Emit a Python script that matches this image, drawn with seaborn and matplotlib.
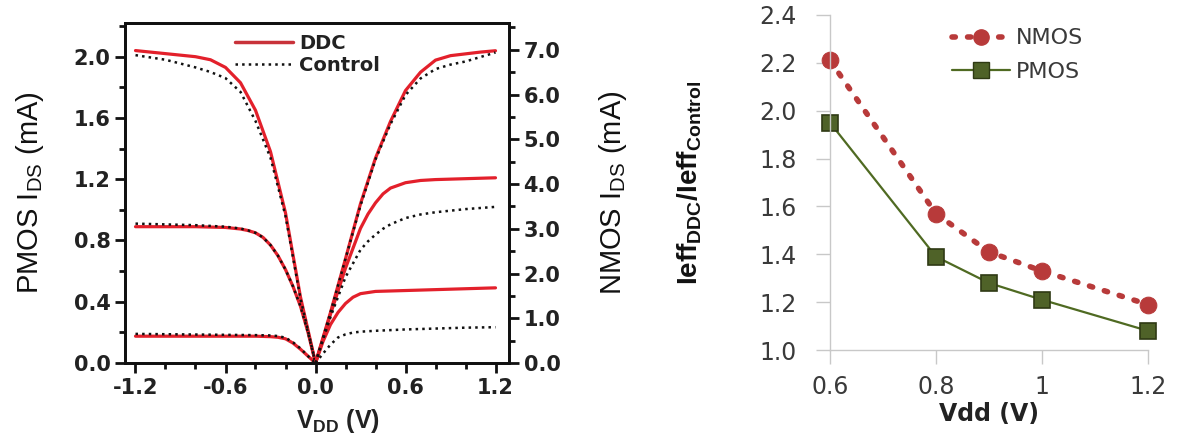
import matplotlib
matplotlib.use("Agg")
import matplotlib.pyplot as plt
import seaborn as sns
import numpy as np
import pandas as pd
from matplotlib.ticker import MultipleLocator, FormatStrFormatter
from matplotlib.lines import Line2D

sns.set_style("ticks")
plt.rcParams['font.family'] = ['DejaVu Sans']
plt.rcParams['mathtext.fontset'] = 'custom'
plt.rcParams['mathtext.rm'] = 'Liberation Sans'
plt.rcParams['mathtext.bf'] = 'Liberation Sans:bold'

# ---------------- Left panel data ----------------
# PMOS (negative V_DD), PMOS I_DS in mA (left axis)
pmos_v = [-1.2, -1.0, -0.8, -0.7, -0.6, -0.5, -0.4, -0.3, -0.2, -0.1, 0.0]
pmos_ddc_hi = [2.04, 2.02, 2.00, 1.98, 1.93, 1.83, 1.65, 1.38, 0.98, 0.43, 0.0]
pmos_ctl_hi = [2.01, 1.98, 1.93, 1.90, 1.86, 1.77, 1.58, 1.34, 0.96, 0.42, 0.0]
pmos_v_mid = [-1.2, -1.0, -0.8, -0.6, -0.5, -0.45, -0.4, -0.35, -0.3, -0.25, -0.2, -0.15, -0.1, -0.05, 0.0]
pmos_ddc_mid = [0.89, 0.89, 0.89, 0.885, 0.875, 0.865, 0.85, 0.82, 0.77, 0.70, 0.61, 0.50, 0.37, 0.20, 0.0]
pmos_ctl_mid = [0.91, 0.905, 0.90, 0.89, 0.878, 0.866, 0.85, 0.82, 0.77, 0.70, 0.61, 0.50, 0.37, 0.20, 0.0]
pmos_v_lo = [-1.2, -1.0, -0.8, -0.6, -0.4, -0.3, -0.25, -0.2, -0.15, -0.1, -0.05, 0.0]
pmos_ddc_lo = [0.175, 0.175, 0.175, 0.175, 0.175, 0.172, 0.168, 0.158, 0.13, 0.09, 0.045, 0.0]
pmos_ctl_lo = [0.19, 0.188, 0.186, 0.184, 0.182, 0.18, 0.176, 0.165, 0.135, 0.095, 0.045, 0.0]

# NMOS (positive V_DD), NMOS I_DS in mA (right axis)
nmos_v_hi = [0.0, 0.1, 0.2, 0.3, 0.4, 0.5, 0.6, 0.7, 0.8, 0.9, 1.0, 1.1, 1.2]
nmos_ddc_hi = [0.0, 1.13, 2.33, 3.56, 4.58, 5.40, 6.09, 6.50, 6.77, 6.87, 6.91, 6.95, 6.98]
nmos_ctl_hi = [0.0, 1.13, 2.33, 3.52, 4.55, 5.34, 5.99, 6.36, 6.57, 6.67, 6.74, 6.84, 6.94]
nmos_v_mid = [0.0, 0.1, 0.2, 0.3, 0.35, 0.4, 0.45, 0.5, 0.6, 0.7, 0.8, 1.0, 1.2]
nmos_ddc_mid = [0.0, 1.09, 2.12, 3.01, 3.33, 3.58, 3.78, 3.91, 4.03, 4.08, 4.10, 4.12, 4.14]
nmos_ctl_mid = [0.0, 1.03, 1.92, 2.53, 2.72, 2.87, 3.00, 3.10, 3.24, 3.32, 3.37, 3.44, 3.49]
nmos_v_lo = [0.0, 0.05, 0.1, 0.15, 0.2, 0.25, 0.3, 0.4, 0.6, 0.8, 1.0, 1.2]
nmos_ddc_lo = [0.0, 0.48, 0.86, 1.13, 1.33, 1.47, 1.55, 1.60, 1.62, 1.64, 1.66, 1.68]
nmos_ctl_lo = [0.0, 0.21, 0.41, 0.57, 0.64, 0.68, 0.70, 0.72, 0.75, 0.77, 0.79, 0.80]

left_xticks = [-1.2, -0.6, 0.0, 0.6, 1.2]
legend_left = ["DDC", "Control"]

# ---------------- Right panel data ----------------
vdd = [0.6, 0.8, 0.9, 1.0, 1.2]
nmos_ratio = [2.21, 1.57, 1.41, 1.33, 1.19]
pmos_ratio = [1.95, 1.39, 1.28, 1.21, 1.08]
right_xticks = [0.6, 0.8, 1.0, 1.2]
right_xticklabels = ["0.6", "0.8", "1", "1.2"]

W, H = 1177, 434
fig = plt.figure(figsize=(W / 100, H / 100), dpi=100)

# ---------- Left panel ----------
L, R, T, B = 125, 509, 23, 363
ax1 = fig.add_axes([L / W, (H - B) / H, (R - L) / W, (B - T) / H])
ax1b = ax1.twinx()

red = "#e3202b"
for xs, ys in [(pmos_v, pmos_ddc_hi), (pmos_v_mid, pmos_ddc_mid), (pmos_v_lo, pmos_ddc_lo)]:
    sns.lineplot(x=xs, y=ys, ax=ax1, color=red, lw=2.3, sort=False, estimator=None)
for xs, ys in [(pmos_v, pmos_ctl_hi), (pmos_v_mid, pmos_ctl_mid), (pmos_v_lo, pmos_ctl_lo)]:
    sns.lineplot(x=xs, y=ys, ax=ax1, color="#111111", lw=1.8, linestyle=":", sort=False, estimator=None)
for xs, ys in [(nmos_v_hi, nmos_ddc_hi), (nmos_v_mid, nmos_ddc_mid), (nmos_v_lo, nmos_ddc_lo)]:
    sns.lineplot(x=xs, y=ys, ax=ax1b, color=red, lw=2.3, sort=False, estimator=None)
for xs, ys in [(nmos_v_hi, nmos_ctl_hi), (nmos_v_mid, nmos_ctl_mid), (nmos_v_lo, nmos_ctl_lo)]:
    sns.lineplot(x=xs, y=ys, ax=ax1b, color="#111111", lw=1.8, linestyle=":", sort=False, estimator=None)

ax1.set_xlim(-1.27, 1.29)
ax1.set_ylim(0, 2.22)
ax1b.set_ylim(0, 7.6)
ax1.set_xticks(left_xticks)
ax1.xaxis.set_minor_locator(MultipleLocator(0.2))
ax1.yaxis.set_major_locator(MultipleLocator(0.4))
ax1.yaxis.set_minor_locator(MultipleLocator(0.2))
ax1b.yaxis.set_major_locator(MultipleLocator(1.0))
ax1b.yaxis.set_minor_locator(MultipleLocator(0.5))
ax1.xaxis.set_major_formatter(FormatStrFormatter('%.1f'))
ax1.yaxis.set_major_formatter(FormatStrFormatter('%.1f'))
ax1b.yaxis.set_major_formatter(FormatStrFormatter('%.1f'))
for a in (ax1, ax1b):
    for s in a.spines.values():
        s.set_linewidth(2.0)
        s.set_color("#111111")
        s.set_visible(True)
ax1.tick_params(axis='both', which='major', direction='out', length=7, width=2,
                labelsize=15, color="#111111", labelcolor="#222222")
ax1.tick_params(axis='both', which='minor', direction='out', length=4, width=2, color="#111111")
ax1.tick_params(axis='y', right=False)
ax1b.tick_params(axis='y', which='major', direction='out', length=7, width=2,
                 labelsize=15, color="#111111", labelcolor="#222222")
ax1b.tick_params(axis='y', which='minor', direction='out', length=4, width=2, color="#111111")
for lab in ax1.get_xticklabels() + ax1.get_yticklabels() + ax1b.get_yticklabels():
    lab.set_fontweight('bold')

lab_fam = ['Liberation Sans', 'DejaVu Sans']
ax1.set_ylabel(r"PMOS I$_{\mathregular{DS}}$ (mA)", fontsize=21, family=lab_fam, labelpad=20,
               color="#111111")
ax1b.set_ylabel(r"NMOS I$_{\mathregular{DS}}$ (mA)", fontsize=21, family=lab_fam, labelpad=26,
                color="#111111")
ax1.set_xlabel(r"V$_{\mathbf{DD}}$ (V)", fontsize=18, fontweight='bold', family=lab_fam,
               color="#222222")
ax1.xaxis.set_label_coords(0.555, -0.13)

h_left = [Line2D([], [], color="#c8323a", lw=2.5),
          Line2D([], [], color="#111111", lw=1.8, linestyle=":")]
leg1 = ax1.legend(h_left, legend_left, loc='upper left', bbox_to_anchor=(0.24, 1.02),
                  frameon=False, handlelength=3.0, handletextpad=0.3, labelspacing=0.15,
                  prop={'weight': 'bold', 'size': 14}, labelcolor="#222222")

# ---------- Right panel ----------
L2, R2, T2, B2 = 830, 1148, 15, 350
ax2 = fig.add_axes([L2 / W, (H - B2) / H, (R2 - L2) / W, (B2 - T2) / H])
nm_col = "#b83a3a"
pm_col = "#4f6a22"
sns.lineplot(x=vdd, y=nmos_ratio, ax=ax2, color=nm_col, lw=4, linestyle=(0, (0.6, 2.2)),
             dash_capstyle='round', marker='o', markersize=12, markeredgecolor=nm_col,
             markerfacecolor=nm_col, clip_on=False, estimator=None)
sns.lineplot(x=vdd, y=pmos_ratio, ax=ax2, color=pm_col, lw=1.6, marker='s', markersize=12,
             markerfacecolor="#4f6228", markeredgecolor="#2f3a14", markeredgewidth=1.2,
             clip_on=False, estimator=None)
ax2.set_xlim(0.6, 1.2)
ax2.set_ylim(1.0, 2.4)
ax2.set_xticks(right_xticks)
ax2.set_xticklabels(right_xticklabels)
ax2.yaxis.set_major_locator(MultipleLocator(0.2))
ax2.yaxis.set_major_formatter(FormatStrFormatter('%.1f'))
sns.despine(ax=ax2)
for s in ("left", "bottom"):
    ax2.spines[s].set_color("#c8c8c8")
    ax2.spines[s].set_linewidth(1.0)
ax2.tick_params(axis='both', direction='out', length=10, width=1, color="#c8c8c8",
                labelsize=17, labelcolor="#3a3a3a")
ax2.tick_params(axis='y', pad=14)
ax2.tick_params(axis='x', pad=8)
ax2.set_xlabel("Vdd (V)", fontsize=17, fontweight='bold', color="#222222", labelpad=2)
ax2.set_ylabel(r"Ieff$_{\mathbf{DDC}}$/Ieff$_{\mathbf{Control}}$", fontsize=20,
               fontweight='bold', family=lab_fam, color="#111111", labelpad=40)

h_right = [Line2D([], [], color=nm_col, lw=4, linestyle=(0, (0.6, 2.2)), dash_capstyle='round',
                  marker='o', markersize=11, markerfacecolor=nm_col, markeredgecolor=nm_col),
           Line2D([], [], color=pm_col, lw=1.6, marker='s', markersize=11,
                  markerfacecolor="#4f6228", markeredgecolor="#2f3a14")]
ax2.legend(h_right, ["NMOS", "PMOS"], loc='upper left', bbox_to_anchor=(0.32, 1.02),
           frameon=False, handlelength=2.6, handletextpad=0.3, labelspacing=0.6,
           prop={'size': 16}, labelcolor="#3a3a3a")

fig.savefig("out.png", dpi=100)
